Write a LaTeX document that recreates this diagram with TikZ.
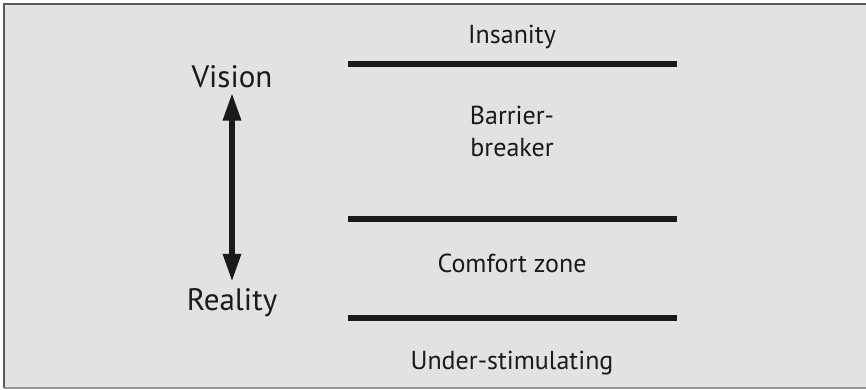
\documentclass[tikz,border=0pt]{standalone}
\usepackage{fontspec}
\setmainfont{PT Sans}
\usetikzlibrary{arrows.meta}
\definecolor{panel}{HTML}{E2E2E2}
\definecolor{ink}{HTML}{1A1A1A}
\begin{document}
\begin{tikzpicture}[x=1pt,y=-1pt]
\useasboundingbox (0,0) rectangle (866,389);
\begin{scope}[every node/.style={text=ink,inner sep=0pt},
  big/.style={font=\fontsize{31}{36}\selectfont},
  small/.style={font=\fontsize{26}{32}\selectfont},
  level/.style={line width=6pt,draw=ink}]

% Frame
\fill[panel] (4,4) rectangle (870,388);
\draw[line width=1.5pt,color=black!65] (870,4) -- (4,4) -- (4,388);
\draw[line width=1.5pt,color=black!42] (4,388) -- (870,388);

% Levels
\draw[level] (348,64) -- (677,64);
\draw[level] (348,219) -- (677,219);
\draw[level] (348,318) -- (677,318);

% Nodes
\node[small,anchor=base] at (512,43) (insanity) {Insanity};
\node[small,align=center] at (512,131) (barrier) {Barrier-\\breaker};
\node[small,anchor=base] at (512,272) (comfort) {Comfort zone};
\node[small,anchor=base] at (512,369) (under) {Under-stimulating};
\node[big,anchor=base,inner sep=5pt] at (232,87) (vision) {Vision};
\node[big,anchor=base,inner sep=0pt] at (232,310) (reality) {Reality};

\draw[line width=6pt,draw=ink,{Triangle[length=28pt,width=17pt]}-{Triangle[length=28pt,width=17pt]},shorten >=6pt] (vision.south) -- (reality.north);

\end{scope}
\end{tikzpicture}
\end{document}
